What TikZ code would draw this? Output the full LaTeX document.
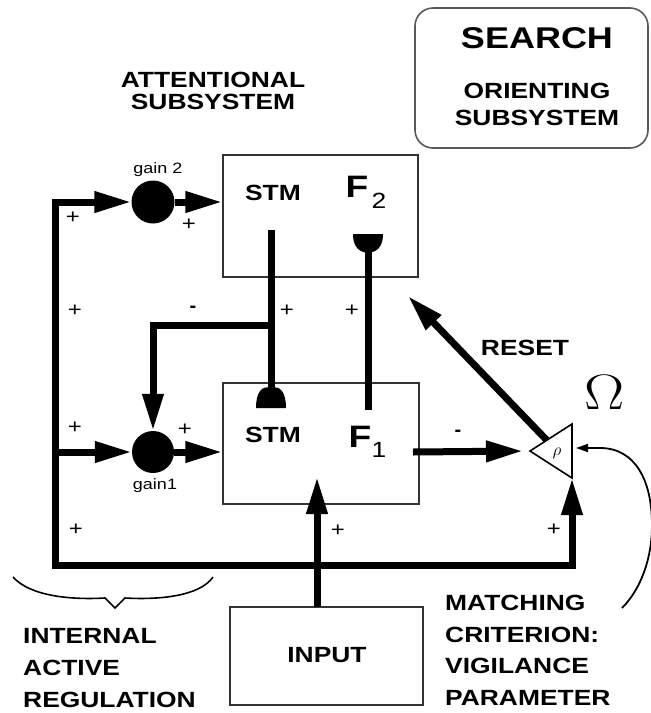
\documentclass[tikz,border=0pt]{standalone}
\usepackage[no-math]{fontspec}
\setmainfont{Liberation Sans}
\usetikzlibrary{arrows.meta,calc}
\newcommand{\hstr}[1]{\scalebox{1.2}[1]{#1}}
\begin{document}
\begin{tikzpicture}[x=1pt,y=-1pt,
  lbl/.style={inner sep=0pt, font=\fontsize{22}{22}\selectfont\bfseries},
  gainlbl/.style={inner sep=0pt, font=\fontsize{15}{15}\selectfont, anchor=base},
  pm/.style={inner sep=0pt, font=\fontsize{20}{20}\selectfont},
  bus/.style={line width=7pt, line join=miter},
  tip/.style={-{Triangle[length=37pt,width=20pt]}},
  box/.style={draw=black!80, line width=1.3pt, inner sep=0pt},
  gain/.style={circle, fill=black, inner sep=0pt},
]
\useasboundingbox (0,0) rectangle (651,713);

% boxes
\node[box, draw=black!65, line width=1.6pt, rounded corners=18pt, minimum width=233pt, minimum height=140pt] (searchbox) at (531.5,78) {};
\node[box, minimum width=195pt, minimum height=122pt] (F2box) at (320.5,216) {};
\node[box, minimum width=196pt, minimum height=121pt] (F1box) at (321,443.5) {};
\node[box, minimum width=193pt, minimum height=98pt] (inputbox) at (326.5,656) {};

% gain nodes
\node[gain, minimum size=43pt] (gain2) at (153,202) {};
\node[gain, minimum size=42pt] (gain1) at (153,452) {};

% matching triangle
\coordinate (triL) at (530,451);
\coordinate (triT) at (572,424);
\coordinate (triB) at (572,478);
\draw[line width=1.6pt, line join=miter] (triL) -- (triT) -- (triB) -- cycle;
\node[inner sep=0pt, font=\fontsize{17.28}{17.28}\selectfont] (rho) at (557,453) {$\rho$};

% named coordinates
\coordinate (busTL) at (55,202);
\coordinate (busBL) at (55,565);
\coordinate (busBR) at (572,565);
\coordinate (busMid) at (55,452);
\coordinate (stmTop) at (271,230);
\coordinate (stmBot) at (271,388);
\coordinate (fbJ) at (271,325);
\coordinate (fbC) at (153,325);
\coordinate (upBot) at (368,410);
\coordinate (upTop) at (368,250);
\coordinate (inS) at (317,607);
\coordinate (inT) at (317,477);
\coordinate (f1out) at (413,452);
\coordinate (resetTip) at (408,296);
\coordinate (curveS) at (622,608);
\coordinate (curveE) at (576,448);

% bus with both ends
\draw[bus, {Triangle[length=37pt,width=20pt]}-{Triangle[length=37pt,width=20pt]}] (gain2.west) -- (busTL) -- (busBL) -- (busBR) -- (triB);
\draw[bus, tip] (busMid) -- (gain1.west);
\draw[bus, tip] (gain2.east) -- (gain2.east -| F2box.west);
\draw[bus, tip] (gain1.east) -- (gain1.east -| F1box.west);

% STM top-down line with end knob
\draw[bus] (stmTop) -- (stmBot);
\fill ($(stmBot)+(-15,20)$) -- ($(stmBot)+(15,20)$) .. controls ($(stmBot)+(15,4)$) and ($(stmBot)+(9,-3)$) .. (stmBot) .. controls ($(stmBot)+(-9,-3)$) and ($(stmBot)+(-15,4)$) .. ($(stmBot)+(-15,20)$) -- cycle;
\draw[bus, tip] (fbJ) -- (fbC) -- (gain1.north);

% bottom-up line with cup
\draw[bus] (upBot) -- (upTop);
\fill ($(upTop)+(-15,-16)$) -- ($(upTop)+(15,-16)$) .. controls ($(upTop)+(15,-3)$) and ($(upTop)+(9,2)$) .. ($(upTop)+(0,3)$) .. controls ($(upTop)+(-9,2)$) and ($(upTop)+(-15,-3)$) .. ($(upTop)+(-15,-16)$) -- cycle;

% input, F1 -> match, reset
\draw[bus, tip] (inS) -- (inT);
\draw[bus, tip, shorten >=7pt] (f1out) -- (triL);
\draw[bus, tip] ($(triL)!0.4!(triT)$) -- (resetTip);

% vigilance curve
\draw[line width=1.8pt, -{Triangle[length=12pt,width=8pt]}] (curveS) .. controls (640,590) and (652,560) .. (652,525) .. controls (652,480) and (635,448) .. (600,448) -- (curveE);

% brace
\draw[line width=1.6pt] (13,577) .. controls (30,596) and (70,600) .. (105,598) -- (115,608) -- (125,598) .. controls (160,600) and (200,596) .. (213,577);

% texts
\node[lbl, font=\fontsize{30}{30}\selectfont\bfseries] (search) at (537,38) {\hstr{SEARCH}};
\node[lbl, anchor=north, align=center, font=\fontsize{22}{27}\selectfont\bfseries] (orient) at (537,83) {\hstr{ORIENTING}\\\hstr{SUBSYSTEM}};
\node[lbl, anchor=north, align=center, font=\fontsize{22}{21.5}\selectfont\bfseries] (attn) at (213,72) {\hstr{ATTENTIONAL}\\\hstr{SUBSYSTEM}};
\node[gainlbl] (g2lbl) at (158,173) {\hstr{gain 2}};
\node[gainlbl] (g1lbl) at (155,489) {\hstr{gain1}};
\node[lbl] (stm2) at (273,193) {\hstr{STM}};
\node[lbl] (stm1) at (273,435) {\hstr{STM}};
\node[inner sep=0pt, font=\fontsize{31}{31}\selectfont\bfseries] (F2) at (357,187) {\hstr{F}};
\node[inner sep=0pt, font=\fontsize{22}{22}\selectfont] (F2s) at (379,201) {\hstr{2}};
\node[inner sep=0pt, font=\fontsize{31}{31}\selectfont\bfseries] (F1) at (360,437) {\hstr{F}};
\node[inner sep=0pt, font=\fontsize{22}{22}\selectfont] (F1s) at (379,450) {\hstr{1}};
\node[lbl] (reset) at (525,348) {\hstr{RESET}};
\node[inner sep=0pt, font=\fontsize{20.74}{20.74}\selectfont] (omega) at (605,392) {\scalebox{2.9}[2.4]{$\Omega$}};
\node[lbl] (input) at (327,655) {\hstr{INPUT}};
\node[lbl, anchor=north west, align=left, font=\fontsize{22}{32.3}\selectfont\bfseries] (internal) at (23,628) {\hstr{INTERNAL}\\\hstr{ACTIVE}\\\hstr{REGULATION}};
\node[lbl, anchor=north west, align=left, font=\fontsize{22}{31.7}\selectfont\bfseries] (matching) at (445,595) {\hstr{MATCHING}\\\hstr{CRITERION:}\\\hstr{VIGILANCE}\\\hstr{PARAMETER}};

% signs
\node[pm] (p1) at (73,218) {\hstr{+}};
\node[pm] (p2) at (189,225) {\hstr{+}};
\node[pm] (p3) at (75,311) {\hstr{+}};
\node[pm, font=\fontsize{20}{20}\selectfont\bfseries] (m1) at (193,309) {-};
\node[pm] (p4) at (287,311) {\hstr{+}};
\node[pm] (p5) at (352,311) {\hstr{+}};
\node[pm] (p6) at (75,428) {\hstr{+}};
\node[pm] (p7) at (185,430) {\hstr{+}};
\node[pm] (p8) at (76,530) {\hstr{+}};
\node[pm] (p9) at (338,531) {\hstr{+}};
\node[pm] (p10) at (554,530) {\hstr{+}};
\node[pm, font=\fontsize{20}{20}\selectfont\bfseries] (m2) at (458,433) {-};
\end{tikzpicture}
\end{document}
